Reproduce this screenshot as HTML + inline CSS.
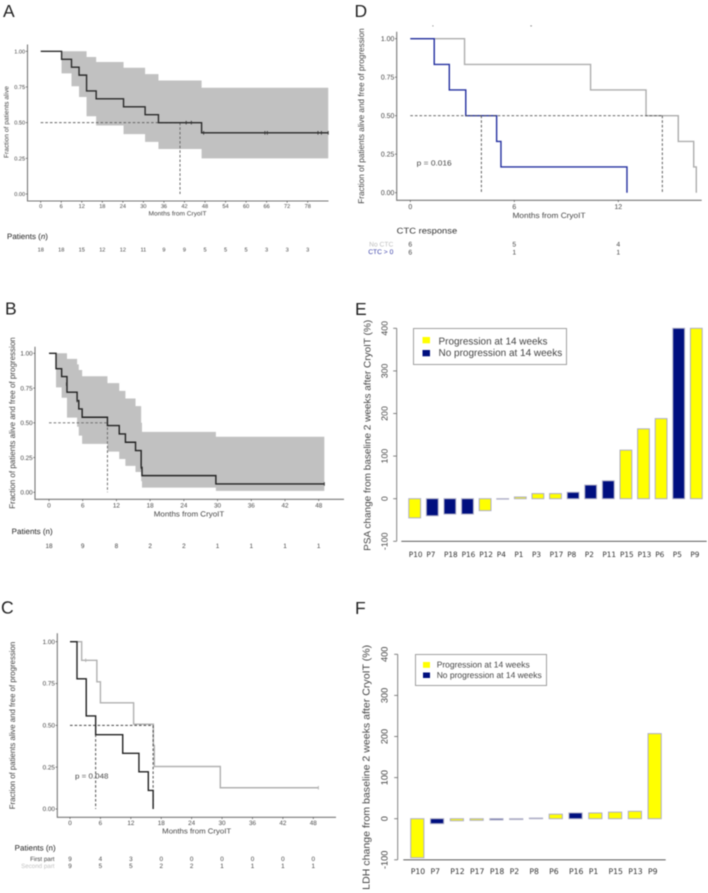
<!DOCTYPE html>
<html lang="en">
<head>
<meta charset="utf-8">
<title>CryoIT outcomes figure</title>
<style>
html,body{margin:0;padding:0;background:#fff;}
svg{display:block;font-family:"Liberation Sans",sans-serif;filter:blur(0.45px);text-rendering:geometricPrecision;}
text{fill:#444;}
.lbl{font-family:"DejaVu Sans","Liberation Sans",sans-serif;}
.letter{font-size:17.5px;fill:#222;}
</style>
</head>
<body>
<svg id="fig" width="708" height="893" viewBox="0 0 708 893" xmlns="http://www.w3.org/2000/svg">
  <g id="panelA">
    <text class="letter" x="3" y="17">A</text>
    <text x="8.7" y="122" font-size="6.6" text-anchor="middle" textLength="72" lengthAdjust="spacingAndGlyphs" transform="rotate(-90 8.7 122)">Fraction of patients alive</text>
    <text x="177.5" y="215.5" font-size="6.2" text-anchor="middle" textLength="58" lengthAdjust="spacingAndGlyphs">Months from CryoIT</text>
    <text x="7" y="239" font-size="7.8" textLength="41" lengthAdjust="spacingAndGlyphs" style="fill:#222">Patients (<tspan font-style="italic" style="fill:#222">n</tspan>)</text>
  </g>
  <g id="panelB">
    <text class="letter" x="5" y="314.5">B</text>
    <text x="15" y="423" font-size="8.2" text-anchor="middle" textLength="171.5" lengthAdjust="spacingAndGlyphs" transform="rotate(-90 15 423)">Fraction of patients alive and free of progression</text>
    <text x="189" y="516.5" font-size="7.5" text-anchor="middle" textLength="70.5" lengthAdjust="spacingAndGlyphs">Months from CryoIT</text>
    <text x="11.7" y="534" font-size="7.8" textLength="41" lengthAdjust="spacingAndGlyphs" style="fill:#222">Patients (n)</text>
  </g>
  <g id="panelC">
    <text class="letter" x="1" y="613.5">C</text>
    <text x="15" y="725.5" font-size="8" text-anchor="middle" textLength="167.5" lengthAdjust="spacingAndGlyphs" transform="rotate(-90 15 725.5)">Fraction of patients alive and free of progression</text>
    <text x="196.7" y="833.5" font-size="7.3" text-anchor="middle" textLength="69" lengthAdjust="spacingAndGlyphs">Months from CryoIT</text>
    <text x="75" y="778.3" font-size="7.1" textLength="33.5" lengthAdjust="spacingAndGlyphs">p = 0.048</text>
    <text x="14.7" y="850.5" font-size="7.8" textLength="41" lengthAdjust="spacingAndGlyphs" style="fill:#222">Patients (n)</text>
    <text x="54.5" y="860.8" font-size="6.2" text-anchor="end">First part</text>
    <text x="54.5" y="867.9" font-size="6.2" text-anchor="end" style="fill:#c2c2c2">Second part</text>
  </g>
  <g id="panelD">
    <text class="letter" x="354.5" y="17">D</text>
    <rect x="432.4" y="25.4" width="1" height="1" fill="#777"/>
    <rect x="530.4" y="25.4" width="1.4" height="1" fill="#777"/>
    <text x="364" y="116" font-size="8.4" text-anchor="middle" textLength="175.5" lengthAdjust="spacingAndGlyphs" transform="rotate(-90 364 116)">Fraction of patients alive and free of progression</text>
    <text x="549" y="218.2" font-size="7.7" text-anchor="middle" textLength="73" lengthAdjust="spacingAndGlyphs">Months from CryoIT</text>
    <text x="416.7" y="165.7" font-size="7.4" textLength="35" lengthAdjust="spacingAndGlyphs">p = 0.016</text>
    <text x="396.7" y="233.7" font-size="8.3" textLength="60.5" lengthAdjust="spacingAndGlyphs" style="fill:#333">CTC response</text>
    <text x="393.3" y="246.3" font-size="6.7" text-anchor="end" style="fill:#bdbdbd">No CTC</text>
    <text x="393.3" y="254" font-size="6.7" text-anchor="end" style="fill:#3a40a8">CTC &gt; 0</text>
  </g>
  <g id="panelE">
    <text class="letter" x="355" y="315">E</text>
    <text x="370.7" y="435.3" font-size="9.6" text-anchor="middle" textLength="231" lengthAdjust="spacingAndGlyphs" transform="rotate(-90 370.7 435.3)">PSA change from baseline 2 weeks after CryoIT (%)</text>
    <g>
      <rect x="413.5" y="328.5" width="153" height="36" fill="#fff" stroke="#a0a0a0" stroke-width="1"/>
      <rect x="422.5" y="337" width="7.5" height="6.3" fill="#ffff00"/>
      <rect x="422.5" y="350" width="7.5" height="6.3" fill="#000f7f"/>
      <text x="438.5" y="344.3" font-size="10" textLength="109" lengthAdjust="spacingAndGlyphs">Progression at 14 weeks</text>
      <text x="438.5" y="356" font-size="10" textLength="123.7" lengthAdjust="spacingAndGlyphs">No progression at 14 weeks</text>
    </g>
  </g>
  <g id="panelF">
    <text class="letter" x="355" y="614">F</text>
    <text x="369.7" y="767.3" font-size="10" text-anchor="middle" textLength="245" lengthAdjust="spacingAndGlyphs" transform="rotate(-90 369.7 767.3)">LDH change from baseline 2 weeks after CryoIT (%)</text>
    <g>
      <rect x="415.5" y="654.5" width="131" height="31" fill="#fff" stroke="#a0a0a0" stroke-width="1"/>
      <rect x="423" y="662" width="7" height="5.8" fill="#ffff00"/>
      <rect x="423" y="672.5" width="7" height="5.5" fill="#000f7f"/>
      <text x="436.7" y="667.7" font-size="8.5" textLength="93" lengthAdjust="spacingAndGlyphs">Progression at 14 weeks</text>
      <text x="436.7" y="678" font-size="8.5" textLength="105" lengthAdjust="spacingAndGlyphs">No progression at 14 weeks</text>
    </g>
  </g>
</svg>
<script>
// ---------- Panel A: overall survival ----------
const aTimes = [0, 6.1, 9, 11.2, 13.4, 16.2, 24.2, 30.5, 34.4, 47, 84];
const aSurvival = [1, 0.944, 0.889, 0.833, 0.722, 0.667, 0.611, 0.556, 0.5, 0.4286, 0.4286];
const aUpper = [1, 1, 1, 1, 0.96, 0.925, 0.885, 0.84, 0.795, 0.745, 0.745];
const aLower = [1, 0.845, 0.755, 0.68, 0.545, 0.48, 0.42, 0.365, 0.315, 0.25, 0.25];
const aCensorTimes = [42.5, 44, 47.6, 65.5, 66.2, 81, 82, 84];
const aCensorValues = [0.5, 0.5, 0.4286, 0.4286, 0.4286, 0.4286, 0.4286, 0.4286];
const aMedian = [40.7];
const aXTicks = [0, 6, 12, 18, 24, 30, 36, 42, 48, 54, 60, 66, 72, 78];
const aRisk = [18, 18, 15, 12, 12, 11, 9, 9, 5, 5, 5, 3, 3, 3];

// ---------- Panel B: progression-free survival ----------
const bTimes = [0, 1.25, 2.25, 3.2, 5, 5.3, 5.9, 10.4, 12.5, 13.6, 15.4, 16.4, 16.55, 29.7, 49];
const bSurvival = [1, 0.889, 0.833, 0.72, 0.66, 0.6, 0.54, 0.48, 0.42, 0.36, 0.3, 0.18, 0.12, 0.06, 0.06];
const bUpper = [1, 1, 1, 0.96, 0.92, 0.88, 0.835, 0.785, 0.73, 0.675, 0.62, 0.5, 0.435, 0.4, 0.4];
const bLower = [1, 0.755, 0.68, 0.537, 0.472, 0.408, 0.348, 0.293, 0.24, 0.19, 0.146, 0.08, 0.034, 0.01, 0.01];
const bCensorTimes = [3.1, 5, 16.4, 49];
const bCensorValues = [0.778, 0.66, 0.18, 0.06];
const bMedian = [10.4];
const bXTicks = [0, 6, 12, 18, 24, 30, 36, 42, 48];
const bRisk = [18, 9, 8, 2, 2, 1, 1, 1, 1];

// ---------- Panel C: first part vs second part ----------
const cFirstTimes = [0, 1.38, 3.2, 5.06, 10.4, 13.6, 15.45, 16.4];
const cFirstSurvival = [1, 0.778, 0.556, 0.444, 0.333, 0.222, 0.111, 0];
const cSecondTimes = [0, 2.3, 5.3, 6, 12.55, 16.45, 16.63, 29.65, 49];
const cSecondSurvival = [1, 0.889, 0.76, 0.635, 0.507, 0.38, 0.254, 0.127, 0.127];
const cSecondCensorTimes = [3.1, 49];
const cSecondCensorValues = [0.889, 0.127];
const cMedians = [5.06, 16.4];
const cXTicks = [0, 6, 12, 18, 24, 30, 36, 42, 48];
const cRiskFirst = [9, 4, 3, 0, 0, 0, 0, 0, 0];
const cRiskSecond = [9, 5, 5, 2, 2, 1, 1, 1, 1];

// ---------- Panel D: CTC response ----------
const dPositiveTimes = [0, 1.38, 2.25, 3.2, 4.98, 5.23, 12.5];
const dPositiveSurvival = [1, 0.833, 0.667, 0.5, 0.333, 0.167, 0];
const dNoneTimes = [0, 3.13, 10.4, 13.6, 15.46, 16.35, 16.5];
const dNoneSurvival = [1, 0.833, 0.667, 0.5, 0.333, 0.167, 0];
const dMedians = [4.1, 14.54];
const dXTicks = [0, 6, 12];
const dRiskNone = [6, 5, 4];
const dRiskPositive = [6, 1, 1];

// ---------- Shared y ticks ----------
const kmYTicks = [0, 0.25, 0.5, 0.75, 1];
const barYTicks = [-100, 0, 100, 200, 300, 400];

// ---------- Panel E: PSA change ----------
const ePatients = ['P10','P7','P18','P16','P12','P4','P1','P3','P17','P8','P2','P11','P15','P13','P6','P5','P9'];
const ePsaChange = [-45, -40, -36, -36, -28, -1, 4, 12, 12, 15, 32, 42, 114, 164, 188, 400, 400];
const eProgression = [1, 0, 0, 0, 1, 0, 1, 1, 1, 0, 0, 0, 1, 1, 1, 0, 1];

// ---------- Panel F: LDH change ----------
const fPatients = ['P10','P7','P12','P17','P18','P2','P8','P6','P16','P1','P15','P13','P9'];
const fLdhChange = [-95, -12, -5, -4, -3, -2, 1.5, 11, 14, 14, 16, 18, 207];
const fProgression = [1, 0, 1, 1, 0, 0, 0, 1, 0, 1, 1, 1, 1];

const NS = 'http://www.w3.org/2000/svg';
function mk(tag, parent, attrs) {
  const e = document.createElementNS(NS, tag);
  for (const k in attrs) e.setAttribute(k, attrs[k]);
  parent.appendChild(e);
  return e;
}
function linear(d0, d1, r0, r1) {
  return v => r0 + (v - d0) * (r1 - r0) / (d1 - d0);
}
function stepPath(times, values, x, y) {
  let d = 'M' + x(times[0]) + ' ' + y(values[0]);
  for (let i = 1; i < times.length; i++) {
    d += 'H' + x(times[i]) + 'V' + y(values[i]);
  }
  return d;
}
function ribbonPath(times, upper, lower, x, y) {
  let d = 'M' + x(times[0]) + ' ' + y(upper[0]);
  for (let i = 0; i < times.length - 1; i++) {
    d += 'H' + x(times[i + 1]);
    d += 'V' + y(upper[i + 1]);
  }
  for (let i = times.length - 1; i > 0; i--) {
    d += 'V' + y(lower[i - 1]);
    d += 'H' + x(times[i - 1]);
  }
  return d + 'Z';
}
function drawRibbon(g, name, times, upper, lower, x, y) {
  const p = mk('path', g, { d: ribbonPath(times, upper, lower, x, y), fill: '#c1c1c1' });
  
  
}
function drawCurve(g, name, times, values, x, y, color, w) {
  const p = mk('path', g, { d: stepPath(times, values, x, y), fill: 'none', stroke: color, 'stroke-width': w });
  
  
}
function drawCensors(g, name, times, values, x, y, color) {
  times.forEach((t, i) => {
    const l = mk('path', g, { d: 'M' + x(t) + ' ' + (y(values[i]) - 1.8) + 'v3.6', stroke: color, 'stroke-width': 0.9, fill: 'none' });
    
    
  });
}
function drawMedians(g, name, medians, x, y, color) {
  const maxT = Math.max.apply(null, medians);
  const h = mk('path', g, { d: 'M' + x(0) + ' ' + y(0.5) + 'H' + x(maxT), stroke: color, 'stroke-width': 0.95, 'stroke-dasharray': '2.6 2', fill: 'none' });
  
  
  medians.forEach(m => {
    const v = mk('path', g, { d: 'M' + x(m) + ' ' + y(0.5) + 'V' + y(0), stroke: color, 'stroke-width': 0.95, 'stroke-dasharray': '2.6 2', fill: 'none' });
    
    
  });
}
function drawKmAxes(g, name, o, x, y, xTicks) {
  const ax = mk('path', g, { d: 'M' + o.left + ' ' + o.top + 'V' + o.bottom + 'H' + o.right, fill: 'none', stroke: '#777', 'stroke-width': 1.1 });
  
  
  kmYTicks.forEach(v => {
    const t = mk('path', g, { d: 'M' + (o.left - 1.8) + ' ' + y(v) + 'h1.8', stroke: '#555', 'stroke-width': 0.7 });
    
    
    const l = mk('text', g, { x: o.left - 2.4, y: y(v) + o.font * 0.35, 'font-size': o.font, 'text-anchor': 'end' });
    
    
    l.textContent = v.toFixed(2);
  });
  xTicks.forEach(v => {
    const t = mk('path', g, { d: 'M' + x(v) + ' ' + o.bottom + 'v1.8', stroke: '#555', 'stroke-width': 0.7 });
    
    
    const l = mk('text', g, { x: x(v), y: o.tickBase, 'font-size': o.font, 'text-anchor': 'middle' });
    
    
    l.textContent = v;
  });
}
function drawRisk(g, name, ticks, counts, x, base, font) {
  counts.forEach((c, i) => {
    const l = mk('text', g, { x: x(ticks[i]), y: base, 'font-size': font, 'text-anchor': 'middle' });
    
    
    l.textContent = c;
  });
}
function drawBars(g, name, o, patients, values, progression) {
  const y = linear(0, 400, o.zero, o.top);
  const ax = mk('path', g, { d: 'M' + o.axisX + ' ' + y(400) + 'V' + y(-100), stroke: '#777', 'stroke-width': 0.9, fill: 'none' });
  
  
  barYTicks.forEach(v => {
    const t = mk('path', g, { d: 'M' + (o.axisX - 3.5) + ' ' + y(v) + 'h3.5', stroke: '#777', 'stroke-width': 0.9 });
    
    
    const l = mk('text', g, { x: o.tickX, y: y(v), 'font-size': o.tickFont, 'text-anchor': 'middle', transform: 'rotate(-90 ' + o.tickX + ' ' + y(v) + ')' });
    
    
    l.textContent = v;
  });
  const base = mk('path', g, { d: 'M' + o.baseL + ' ' + y(-100) + 'H' + o.baseR, stroke: '#444', 'stroke-width': 0.9, fill: 'none' });
  
  
  values.forEach((v, i) => {
    const cx = o.first + i * o.step;
    const top = Math.min(y(v), y(0));
    const r = mk('rect', g, {
      x: cx - o.barW / 2, y: top, width: o.barW, height: Math.abs(y(v) - y(0)),
      fill: progression[i] ? '#ffff00' : '#000f7f', stroke: '#aeaec6', 'stroke-width': 1
    });
    
    
    const l = mk('text', g, { class: 'lbl', x: cx - o.barW / 2, y: o.labelBase, 'font-size': o.labelFont });
    
    
    l.style.fill = '#333';
    l.textContent = patients[i];
  });
}

// ---------- Draw panel A ----------
(function () {
  const g = document.getElementById('panelA');
  const x = linear(0, 78, 40.7, 307.7);
  const y = linear(0, 1, 194, 51.3);
  drawRibbon(g, 'panel-a', aTimes, aUpper, aLower, x, y);
  drawKmAxes(g, 'panel-a', { left: 27.5, top: 44.5, bottom: 201, right: 328.5, font: 5.6, tickBase: 208.2 }, x, y, aXTicks);
  drawMedians(g, 'panel-a', aMedian, x, y, '#666');
  drawCurve(g, 'panel-a', aTimes, aSurvival, x, y, '#2a2a2a', 1.4);
  drawCensors(g, 'panel-a', aCensorTimes, aCensorValues, x, y, '#333');
  drawRisk(g, 'panel-a', aXTicks, aRisk, x, 251.4, 5.6);
})();

// ---------- Draw panel B ----------
(function () {
  const g = document.getElementById('panelB');
  const x = linear(0, 48, 49, 318.7);
  const y = linear(0, 1, 492.3, 353.3);
  drawRibbon(g, 'panel-b', bTimes, bUpper, bLower, x, y);
  drawKmAxes(g, 'panel-b', { left: 35, top: 346.7, bottom: 499.3, right: 344, font: 6.3, tickBase: 507.5 }, x, y, bXTicks);
  drawMedians(g, 'panel-b', bMedian, x, y, '#666');
  drawCurve(g, 'panel-b', bTimes, bSurvival, x, y, '#222', 1.4);
  drawCensors(g, 'panel-b', bCensorTimes, bCensorValues, x, y, '#333');
  drawRisk(g, 'panel-b', bXTicks, bRisk, x, 548, 6.4);
})();

// ---------- Draw panel C ----------
(function () {
  const g = document.getElementById('panelC');
  const x = linear(0, 48, 70, 313.3);
  const y = linear(0, 1, 809, 641.7);
  drawKmAxes(g, 'panel-c', { left: 57.3, top: 633.3, bottom: 817.3, right: 336, font: 6.3, tickBase: 825.2 }, x, y, cXTicks);
  drawCurve(g, 'panel-c-second-part', cSecondTimes, cSecondSurvival, x, y, '#b0b0b0', 1.4);
  drawCensors(g, 'panel-c-second-part', cSecondCensorTimes, cSecondCensorValues, x, y, '#b0b0b0');
  drawMedians(g, 'panel-c', cMedians, x, y, '#444');
  drawCurve(g, 'panel-c-first-part', cFirstTimes, cFirstSurvival, x, y, '#222', 1.4);
  drawRisk(g, 'panel-c-first-part', cXTicks, cRiskFirst, x, 860.8, 6.3);
  drawRisk(g, 'panel-c-second-part', cXTicks, cRiskSecond, x, 867.9, 6.3);
})();

// ---------- Draw panel D ----------
(function () {
  const g = document.getElementById('panelD');
  const x = linear(0, 12, 410.3, 618.3);
  const y = linear(0, 1, 192.7, 38.7);
  drawKmAxes(g, 'panel-d', { left: 396.7, top: 31.7, bottom: 200.3, right: 701.7, font: 6.9, tickBase: 209 }, x, y, dXTicks);
  drawCurve(g, 'panel-d-no-ctc', dNoneTimes, dNoneSurvival, x, y, '#adadad', 1.4);
  drawCurve(g, 'panel-d-ctc-positive', dPositiveTimes, dPositiveSurvival, x, y, '#2430a0', 1.4);
  drawMedians(g, 'panel-d', dMedians, x, y, '#555');
  drawRisk(g, 'panel-d-no-ctc', dXTicks, dRiskNone, x, 246.6, 6.8);
  drawRisk(g, 'panel-d-ctc-positive', dXTicks, dRiskPositive, x, 254.3, 6.8);
})();

// ---------- Draw panels E and F ----------
drawBars(document.getElementById('panelE'), 'panel-e', {
  top: 328.3, zero: 498.7, axisX: 396.7, tickX: 387.5, tickFont: 8.8,
  baseL: 401.3, baseR: 706.7, first: 414.7, step: 17.6, barW: 11.8,
  labelBase: 556.8, labelFont: 7.3
}, ePatients, ePsaChange, eProgression);

drawBars(document.getElementById('panelF'), 'panel-f', {
  top: 654.3, zero: 818.7, axisX: 397.7, tickX: 387.7, tickFont: 9.2,
  baseL: 403.3, baseR: 665.7, first: 417.3, step: 19.78, barW: 13.2,
  labelBase: 874, labelFont: 7.7
}, fPatients, fLdhChange, fProgression);
</script>
</body>
</html>
